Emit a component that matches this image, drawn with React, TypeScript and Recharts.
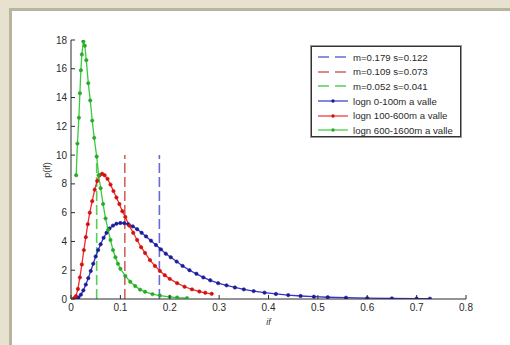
import React from 'react';
import { ComposedChart, Line, XAxis, YAxis, Legend } from 'recharts';

// ---- data ----
const xTicks = [0, 0.1, 0.2, 0.3, 0.4, 0.5, 0.6, 0.7, 0.8];
const yTicks = [0, 2, 4, 6, 8, 10, 12, 14, 16, 18];

const blueCurve = [
  { x: 0.010, y: 0.0 }, { x: 0.015, y: 0.1 }, { x: 0.020, y: 0.3 }, { x: 0.025, y: 0.6 },
  { x: 0.030, y: 1.0 }, { x: 0.035, y: 1.45 }, { x: 0.040, y: 1.95 }, { x: 0.045, y: 2.45 },
  { x: 0.050, y: 2.95 }, { x: 0.055, y: 3.4 }, { x: 0.060, y: 3.8 }, { x: 0.066, y: 4.25 },
  { x: 0.072, y: 4.6 }, { x: 0.078, y: 4.9 }, { x: 0.085, y: 5.1 }, { x: 0.092, y: 5.23 },
  { x: 0.100, y: 5.28 }, { x: 0.108, y: 5.27 }, { x: 0.116, y: 5.2 }, { x: 0.125, y: 5.05 },
  { x: 0.134, y: 4.85 }, { x: 0.143, y: 4.6 }, { x: 0.152, y: 4.35 }, { x: 0.162, y: 4.05 },
  { x: 0.172, y: 3.75 }, { x: 0.182, y: 3.45 }, { x: 0.192, y: 3.15 }, { x: 0.202, y: 2.9 },
  { x: 0.214, y: 2.6 }, { x: 0.226, y: 2.3 }, { x: 0.240, y: 2.0 }, { x: 0.254, y: 1.75 },
  { x: 0.268, y: 1.5 }, { x: 0.282, y: 1.3 }, { x: 0.298, y: 1.1 }, { x: 0.315, y: 0.95 },
  { x: 0.332, y: 0.8 }, { x: 0.350, y: 0.67 }, { x: 0.370, y: 0.55 }, { x: 0.392, y: 0.44 },
  { x: 0.415, y: 0.35 }, { x: 0.440, y: 0.27 }, { x: 0.465, y: 0.21 }, { x: 0.492, y: 0.16 },
  { x: 0.520, y: 0.12 }, { x: 0.557, y: 0.09 }, { x: 0.600, y: 0.06 }, { x: 0.650, y: 0.04 },
  { x: 0.700, y: 0.03 }, { x: 0.727, y: 0.02 },
];

const redCurve = [
  { x: 0.006, y: 0.05 }, { x: 0.010, y: 0.2 }, { x: 0.014, y: 0.7 }, { x: 0.018, y: 1.5 },
  { x: 0.022, y: 2.4 }, { x: 0.026, y: 3.4 }, { x: 0.030, y: 4.3 }, { x: 0.034, y: 5.2 },
  { x: 0.038, y: 6.0 }, { x: 0.043, y: 6.8 }, { x: 0.048, y: 7.6 }, { x: 0.053, y: 8.2 },
  { x: 0.058, y: 8.6 }, { x: 0.063, y: 8.7 }, { x: 0.068, y: 8.6 }, { x: 0.074, y: 8.35 },
  { x: 0.080, y: 7.95 }, { x: 0.086, y: 7.5 }, { x: 0.092, y: 7.05 }, { x: 0.098, y: 6.6 },
  { x: 0.104, y: 6.1 }, { x: 0.110, y: 5.7 }, { x: 0.118, y: 5.1 }, { x: 0.126, y: 4.6 },
  { x: 0.134, y: 4.1 }, { x: 0.142, y: 3.6 }, { x: 0.150, y: 3.2 }, { x: 0.160, y: 2.7 },
  { x: 0.170, y: 2.3 }, { x: 0.180, y: 1.95 }, { x: 0.190, y: 1.65 }, { x: 0.200, y: 1.4 },
  { x: 0.215, y: 1.1 }, { x: 0.230, y: 0.85 }, { x: 0.245, y: 0.67 }, { x: 0.260, y: 0.52 },
  { x: 0.272, y: 0.43 }, { x: 0.285, y: 0.36 },
];

const greenCurve = [
  { x: 0.0105, y: 8.6 }, { x: 0.013, y: 10.8 }, { x: 0.016, y: 12.6 }, { x: 0.018, y: 14.3 },
  { x: 0.020, y: 15.9 }, { x: 0.022, y: 17.0 }, { x: 0.025, y: 17.9 }, { x: 0.028, y: 17.6 },
  { x: 0.031, y: 16.6 }, { x: 0.035, y: 15.0 }, { x: 0.039, y: 13.8 }, { x: 0.043, y: 12.4 },
  { x: 0.047, y: 11.2 }, { x: 0.052, y: 9.9 }, { x: 0.056, y: 8.6 }, { x: 0.060, y: 7.7 },
  { x: 0.065, y: 6.6 }, { x: 0.070, y: 5.6 }, { x: 0.075, y: 4.8 }, { x: 0.080, y: 4.1 },
  { x: 0.085, y: 3.4 }, { x: 0.090, y: 2.9 }, { x: 0.095, y: 2.45 }, { x: 0.100, y: 2.1 },
  { x: 0.110, y: 1.6 }, { x: 0.120, y: 1.2 }, { x: 0.130, y: 0.9 }, { x: 0.140, y: 0.65 },
  { x: 0.150, y: 0.5 }, { x: 0.165, y: 0.34 }, { x: 0.180, y: 0.24 }, { x: 0.200, y: 0.15 },
  { x: 0.215, y: 0.1 }, { x: 0.235, y: 0.06 },
];

const blueMean = [{ x: 0.179, y: 0 }, { x: 0.179, y: 10 }];
const redMean = [{ x: 0.109, y: 0 }, { x: 0.109, y: 10 }];
const greenMean = [{ x: 0.052, y: 0 }, { x: 0.052, y: 10 }];

const legendLabels = [
  'm=0.179 s=0.122',
  'm=0.109 s=0.073',
  'm=0.052 s=0.041',
  'logn 0-100m a valle',
  'logn 100-600m a valle',
  'logn 600-1600m a valle',
];

// ---- styles ----
const BLUE = '#3535c8';
const BLUE_DOT = '#1c1c96';
const RED = '#f02c2c';
const RED_DOT = '#d40f0f';
const GREEN = '#3ccb3c';
const GREEN_DOT = '#27aa27';
const BLUE_DASH = '#6a6ad4';
const RED_DASH = '#d2645c';
const GREEN_DASH = '#55cf55';
const AXIS = '#2a2a2a';
const FONT = 'Arial, "Liberation Sans", sans-serif';

const legendStyles = [
  { color: BLUE_DASH, dash: true, dot: '' },
  { color: RED_DASH, dash: true, dot: '' },
  { color: GREEN_DASH, dash: true, dot: '' },
  { color: BLUE, dash: false, dot: BLUE_DOT },
  { color: RED, dash: false, dot: RED_DOT },
  { color: GREEN, dash: false, dot: GREEN_DOT },
];

const fmtX = (v: number) => (v === 0 ? '0' : v.toFixed(1));

const BottomTick = (props: any) => {
  const { x, y, payload } = props;
  return (
    <g>
      <line x1={x} y1={y} x2={x} y2={y - 4} stroke={AXIS} strokeWidth={1} />
      <text x={x} y={y + 12} textAnchor="middle" fontSize={10} fontFamily={FONT} fill="#2a2a2a">
        {fmtX(payload.value)}
      </text>
    </g>
  );
};

const TopTick = (props: any) => {
  const { x, y } = props;
  return <line x1={x} y1={y} x2={x} y2={y + 4} stroke={AXIS} strokeWidth={1} />;
};

const LeftTick = (props: any) => {
  const { x, y, payload } = props;
  return (
    <g>
      <line x1={x} y1={y} x2={x + 4} y2={y} stroke={AXIS} strokeWidth={1} />
      <text x={x - 4} y={y + 3.5} textAnchor="end" fontSize={10} fontFamily={FONT} fill="#2a2a2a">
        {String(payload.value)}
      </text>
    </g>
  );
};

const RightTick = (props: any) => {
  const { x, y } = props;
  return <line x1={x} y1={y} x2={x - 4} y2={y} stroke={AXIS} strokeWidth={1} />;
};

const XLabel = (props: any) => {
  const vb = props.viewBox || { x: 0, y: 0, width: 0, height: 0 };
  return (
    <text x={vb.x + vb.width / 2} y={vb.y + 26} textAnchor="middle" fontSize={9} fontStyle="italic" fontFamily={FONT} fill="#333">
      if
    </text>
  );
};

const YLabel = (props: any) => {
  const vb = props.viewBox || { x: 0, y: 0, width: 0, height: 0 };
  const cx = vb.x + 50;
  const cy = vb.y + 130;
  return (
    <text x={cx} y={cy} transform={`rotate(-90 ${cx} ${cy})`} textAnchor="middle" fontSize={9} fontFamily={FONT} fill="#333">
      p(if)
    </text>
  );
};

const LegendBox = () => (
  <div
    style={{
      width: 150,
      height: 91,
      border: '1px solid #333',
      boxShadow: '0 0 0 1px #999',
      background: '#fff',
      boxSizing: 'border-box',
      padding: '3px 0 0 5px',
      fontFamily: FONT,
      fontSize: 9.6,
      color: '#2a2a2a',
    }}
  >
    {legendLabels.map((label, i) => {
      const s = legendStyles[i];
      return (
        <div key={label} style={{ display: 'flex', alignItems: 'center', height: 14.6, whiteSpace: 'nowrap' }}>
          <svg width={34} height={8} style={{ marginRight: 2 }}>
            <line x1={1} y1={4} x2={31} y2={4} stroke={s.color} strokeWidth={s.dash ? 1.4 : 1.2} strokeDasharray={s.dash ? '11 6' : undefined} />
            {s.dot ? <circle cx={16} cy={4} r={1.7} fill={s.dot} /> : null}
          </svg>
          <span>{label}</span>
        </div>
      );
    })}
  </div>
);

export default function App() {
  return (
    <div style={{ position: 'absolute', left: 0, top: 0, width: 510, height: 345, background: '#e7e2d0', overflow: 'hidden' }}>
      <div
        style={{
          position: 'absolute',
          left: 9,
          top: 8,
          width: 520,
          height: 360,
          background: '#fff',
          border: '3px solid #b8b59f',
          boxSizing: 'border-box',
        }}
      />
      <div style={{ position: 'absolute', left: 0, top: 0 }}>
        <ComposedChart width={510} height={345} margin={{ top: 40, right: 44, left: 0, bottom: 0 }}>
          <XAxis
            type="number"
            dataKey="x"
            domain={[0, 0.8]}
            ticks={xTicks}
            interval={0}
            height={46}
            stroke={AXIS}
            tickSize={0}
            tickMargin={0}
            tick={<BottomTick />}
            allowDataOverflow
            label={<XLabel />}
          />
          <XAxis
            xAxisId="top"
            type="number"
            orientation="top"
            domain={[0, 0.8]}
            ticks={xTicks}
            interval={0}
            height={0}
            stroke={AXIS}
            tickSize={0}
            tickMargin={0}
            tick={<TopTick />}
            allowDataOverflow
          />
          <YAxis
            type="number"
            domain={[0, 18]}
            ticks={yTicks}
            interval={0}
            width={71}
            stroke={AXIS}
            tickSize={0}
            tickMargin={0}
            tick={<LeftTick />}
            allowDataOverflow
            label={<YLabel />}
          />
          <YAxis
            yAxisId="right"
            type="number"
            orientation="right"
            domain={[0, 18]}
            ticks={yTicks}
            interval={0}
            width={0}
            stroke={AXIS}
            tickSize={0}
            tickMargin={0}
            tick={<RightTick />}
            allowDataOverflow
          />
          <Legend
            layout="horizontal"
            verticalAlign="middle"
            align="center"
            content={<LegendBox />}
            wrapperStyle={{ position: 'absolute', left: 311, top: 46, width: 150, height: 91 }}
          />
          <Line data={blueMean} dataKey="y" stroke={BLUE_DASH} strokeWidth={1.6} strokeDasharray="10 4" dot={false} isAnimationActive={false} legendType="none" />
          <Line data={redMean} dataKey="y" stroke={RED_DASH} strokeWidth={1.6} strokeDasharray="10 4" dot={false} isAnimationActive={false} legendType="none" />
          <Line data={greenMean} dataKey="y" stroke={GREEN_DASH} strokeWidth={1.6} strokeDasharray="10 4" dot={false} isAnimationActive={false} legendType="none" />
          <Line data={blueCurve} dataKey="y" type="linear" stroke={BLUE} strokeWidth={1.3} dot={{ r: 1.7, fill: BLUE_DOT, stroke: BLUE_DOT, strokeWidth: 0.6 }} isAnimationActive={false} />
          <Line data={redCurve} dataKey="y" type="linear" stroke={RED} strokeWidth={1.3} dot={{ r: 1.7, fill: RED_DOT, stroke: RED_DOT, strokeWidth: 0.6 }} isAnimationActive={false} />
          <Line data={greenCurve} dataKey="y" type="linear" stroke={GREEN} strokeWidth={1.3} dot={{ r: 1.7, fill: GREEN_DOT, stroke: GREEN_DOT, strokeWidth: 0.6 }} isAnimationActive={false} />
        </ComposedChart>
      </div>
    </div>
  );
}
